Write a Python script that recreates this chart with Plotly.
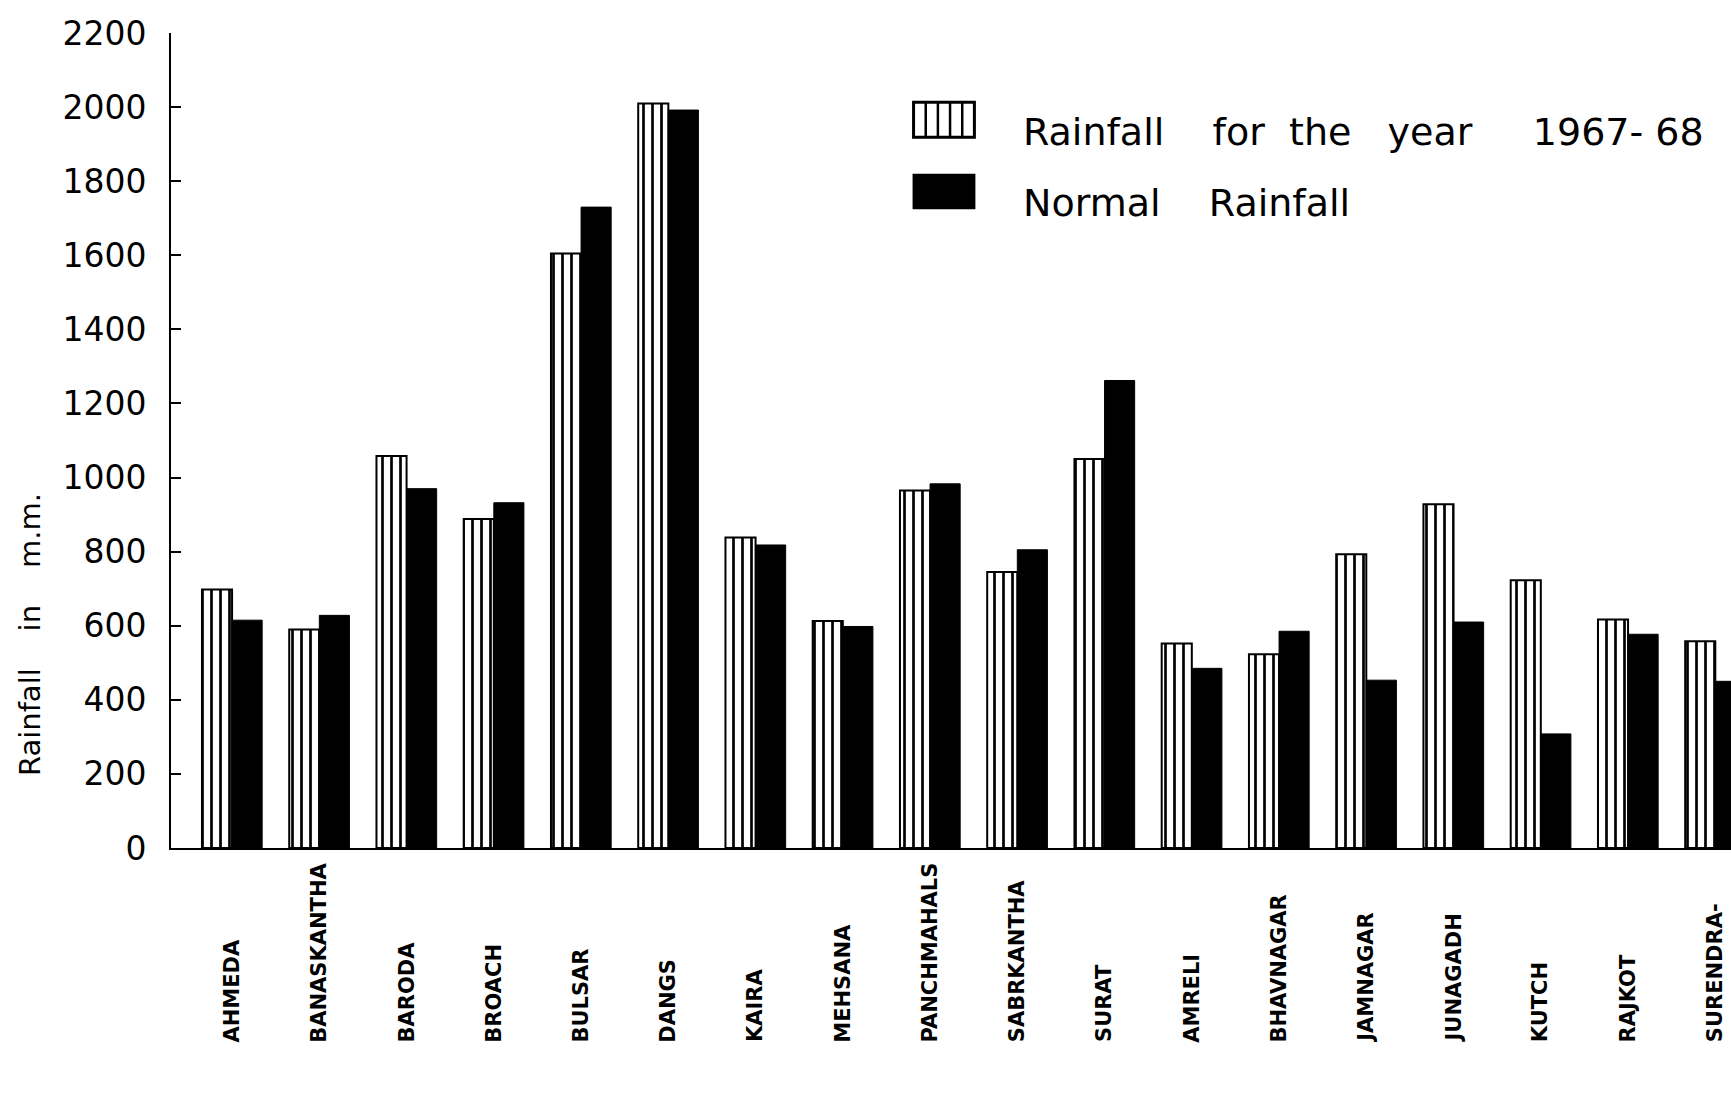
import plotly.graph_objects as go

# ---- data ----
districts = ["AHMEDA", "BANASKANTHA", "BARODA", "BROACH", "BULSAR", "DANGS",
             "KAIRA", "MEHSANA", "PANCHMAHALS", "SABRKANTHA", "SURAT", "AMRELI",
             "BHAVNAGAR", "JAMNAGAR", "JUNAGADH", "KUTCH", "RAJKOT", "SURENDRA-"]
rain_1967_68 = [698, 590, 1058, 888, 1605, 2010, 838, 613, 965, 745, 1050, 552,
                523, 793, 928, 723, 617, 558]
normal_rain = [615, 628, 970, 932, 1730, 1992, 818, 598, 983, 805, 1262, 485,
               585, 453, 610, 308, 577, 450]
y_ticks = [0, 200, 400, 600, 800, 1000, 1200, 1400, 1600, 1800, 2000, 2200]
legend_labels = ["Rainfall\u00a0\u00a0\u00a0\u00a0for\u00a0\u00a0the\u00a0\u00a0\u00a0year\u00a0\u00a0\u00a0\u00a0\u00a01967-\u00a068",
                 "Normal\u00a0\u00a0\u00a0\u00a0Rainfall"]
y_title = "Rainfall\u00a0\u00a0\u00a0\u00a0in\u00a0\u00a0\u00a0\u00a0m.m."

FONT = "DejaVu Sans"

fig = go.Figure()
fig.add_trace(go.Bar(
    x=districts, y=rain_1967_68, name=legend_labels[0],
    marker=dict(color="white",
                line=dict(color="black", width=2),
                pattern=dict(shape="|", fgcolor="black", bgcolor="white",
                             size=9, solidity=0.3, fillmode="replace")),
))
fig.add_trace(go.Bar(
    x=districts, y=normal_rain, name=legend_labels[1],
    marker=dict(color="black", line=dict(color="black", width=1)),
))

# x category labels: vertical text, bottom aligned
annotations = []
for d in districts:
    annotations.append(dict(x=d, xref="x", y=-0.241, yref="paper",
                            text=d, textangle=-90, showarrow=False,
                            xanchor="center", yanchor="bottom",
                            font=dict(family=FONT, size=21, color="black",
                                      weight="bold")))
# y-axis title
annotations.append(dict(x=-0.090, xref="paper", y=0.262, yref="paper",
                        text=y_title, textangle=-90, showarrow=False,
                        xanchor="center", yanchor="middle",
                        font=dict(family=FONT, size=29, color="black")))
# legend texts
annotations.append(dict(x=0.545, xref="paper", y=0.878, yref="paper",
                        text=legend_labels[0], showarrow=False,
                        xanchor="left", yanchor="middle",
                        font=dict(family=FONT, size=38, color="black")))
annotations.append(dict(x=0.545, xref="paper", y=0.792, yref="paper",
                        text=legend_labels[1], showarrow=False,
                        xanchor="left", yanchor="middle",
                        font=dict(family=FONT, size=38, color="black")))

# legend swatches (drawn manually)
bx0, bx1 = 0.476, 0.515
shapes = [
    dict(type="rect", xref="paper", yref="paper", x0=bx0, x1=bx1, y0=0.872, y1=0.915,
         line=dict(color="black", width=3), fillcolor="white"),
    dict(type="rect", xref="paper", yref="paper", x0=bx0, x1=bx1, y0=0.785, y1=0.826,
         line=dict(color="black", width=2), fillcolor="black"),
]
for k in range(1, 5):
    xx = bx0 + (bx1 - bx0) * k / 5
    shapes.append(dict(type="line", xref="paper", yref="paper", x0=xx, x1=xx,
                       y0=0.872, y1=0.915, line=dict(color="black", width=2.5)))

fig.update_layout(
    width=1731, height=1093, autosize=False,
    margin=dict(l=171, r=0, t=33, b=245, pad=0),
    paper_bgcolor="white", plot_bgcolor="white",
    barmode="group", bargap=0.31, bargroupgap=0,
    showlegend=False,
    annotations=annotations, shapes=shapes,
    font=dict(family=FONT, color="black"),
)
fig.update_xaxes(range=[-0.70, 17.18], showticklabels=False, ticks="",
                 showline=True, linecolor="black", linewidth=2,
                 showgrid=False, zeroline=False)
fig.update_yaxes(range=[0, 2200], tickvals=y_ticks, ticktext=[str(v) for v in y_ticks],
                 ticks="inside", ticklen=10, tickwidth=2, tickcolor="black",
                 ticklabelstandoff=16,
                 tickfont=dict(family=FONT, size=33, color="black"),
                 showline=True, linecolor="black", linewidth=2,
                 showgrid=False, zeroline=False)

fig.write_html("out.html", config={"displayModeBar": False},
               post_script="document.body.style.margin='0';")
